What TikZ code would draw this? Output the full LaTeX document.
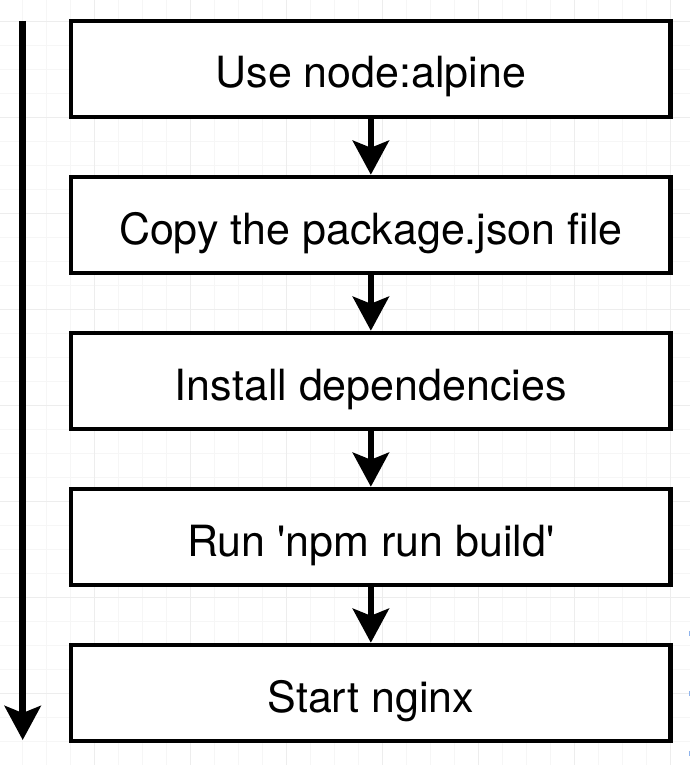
\documentclass[tikz,border=0pt]{standalone}
\usepackage{fontspec}
\setmainfont{TeX Gyre Heros}
\usetikzlibrary{arrows.meta}
\definecolor{gridminor}{HTML}{F6F6F6}
\definecolor{gridmajor}{HTML}{EDEDED}
\definecolor{markblue}{HTML}{8FB4EC}
\tikzset{
  stepbox/.style={draw=black, line width=4.5pt, fill=white, minimum width=599.7pt,
    minimum height=96pt, inner sep=0pt, text height=50pt, text depth=12pt,
    font=\fontsize{43}{50}\selectfont},
  flowarrow/.style={line width=6.5pt, -{Stealth[length=34pt, width=36pt, inset=7pt]}},
}
\begin{document}
\begin{tikzpicture}[x=1pt, y=-1pt]
\useasboundingbox (0,0) rectangle (690,765);
\fill[white] (0,0) rectangle (690,765);
% background grid
\foreach \i in {-1,...,28} {
  \pgfmathsetmacro{\gx}{22.7+24*\i}
  \draw[gridminor, line width=0.9pt] (\gx,0) -- (\gx,765);
}
\foreach \j in {-1,...,31} {
  \pgfmathsetmacro{\gy}{21+24*\j}
  \draw[gridminor, line width=0.9pt] (0,\gy) -- (690,\gy);
}
\foreach \i in {-1,...,7} {
  \pgfmathsetmacro{\gx}{-1.3+96*\i}
  \draw[gridmajor, line width=0.9pt] (\gx,0) -- (\gx,765);
}
\foreach \j in {-2,...,7} {
  \pgfmathsetmacro{\gy}{117+96*\j}
  \draw[gridmajor, line width=0.9pt] (0,\gy) -- (690,\gy);
}
% small blue marks at right edge
\foreach \my in {633,693,753} {
  \fill[markblue] (688.5,\my-2.5) rectangle (690,\my+2.5);
}
% boxes
\node[stepbox] (s1) at (370.85,69) {Use node:alpine};
\node[stepbox] (s2) at (370.85,225) {Copy the package.json file};
\node[stepbox] (s3) at (370.85,381) {Install dependencies};
\node[stepbox] (s4) at (370.85,537) {Run \textquotesingle npm run build\textquotesingle};
\node[stepbox] (s5) at (370.85,693) {Start nginx};
% connectors
\draw[flowarrow] (s1.south) -- (s2.north);
\draw[flowarrow] (s2.south) -- (s3.north);
\draw[flowarrow] (s3.south) -- (s4.north);
\draw[flowarrow] (s4.south) -- (s5.north);
% timeline arrow
\coordinate (tstart) at (22.7,21);
\coordinate (tend) at (22.7,740);
\draw[flowarrow] (tstart) -- (tend);
\end{tikzpicture}
\end{document}
